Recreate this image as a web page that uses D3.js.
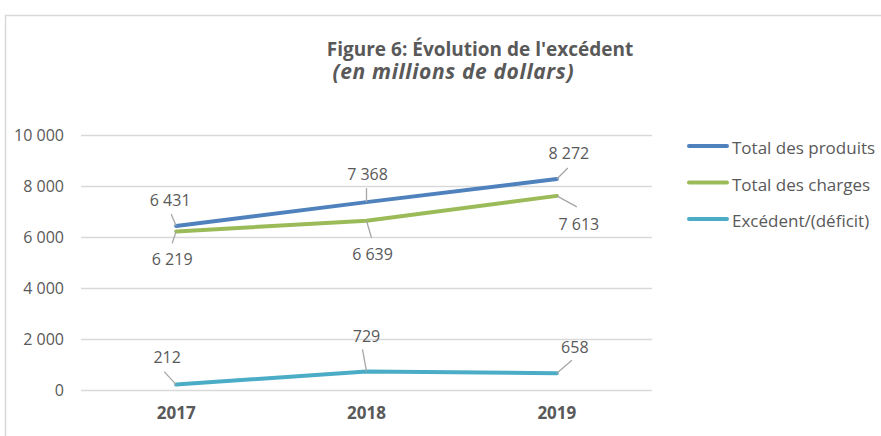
<!DOCTYPE html>
<html>
<head>
<meta charset="utf-8">
<script src="https://cdn.jsdelivr.net/npm/d3@7"></script>
<style>
  body { margin: 0; background: #fff; }
  text { font-family: "Open Sans", sans-serif; fill: #595959; }
</style>
</head>
<body>
<script>
// Data
var years = ["2017", "2018", "2019"];
var produits = [6431, 7368, 8272];
var charges = [6219, 6639, 7613];
var excedent = [212, 729, 658];
var seriesNames = ["Total des produits", "Total des charges", "Excédent/(déficit)"];
var yTicks = [0, 2000, 4000, 6000, 8000, 10000];

// Chart stuff
var width = 881,
    height = 436;
var margin = {left: 81, right: 229, top: 135, bottom: 46};

var colors = ["#4f81bd", "#9bbb59", "#4bacc6"];

// label placement: text dx, baseline dy, leader end dx, dy (relative to point)
var labelPos = [
  [[-6, -20, -5, -12], [1, -22, 0, -14], [12, -20, 11, -11]],
  [[-4, 34, -4, 12], [6, 39, 5, 17], [22, 34, 20, 11]],
  [[-9, -22, -12, -13], [0, -29, -4, -22], [18, -20, 15, -13]]
];

var svg = d3.select("body").append("svg")
    .attr("width", width)
    .attr("height", height);

// border
svg.append("rect")
    .attr("x", 5.5).attr("y", 15.5)
    .attr("width", width).attr("height", height)
    .attr("fill", "none").attr("stroke", "#d9d9d9").attr("stroke-width", 1.5);

var x = d3.scaleBand()
    .domain(years)
    .range([margin.left, width - margin.right]);

var y = d3.scaleLinear()
    .domain([0, 10000])
    .range([height - margin.bottom, margin.top]);

var fmt = function(v) { return d3.format(",")(v).replace(/,/g, " "); };

// title
svg.append("text")
    .attr("x", 480).attr("y", 56)
    .attr("text-anchor", "middle")
    .style("font-size", "19px").style("font-weight", "bold")
    .text("Figure 6: Évolution de l'excédent");
svg.append("text")
    .attr("x", 453).attr("y", 79)
    .attr("text-anchor", "middle")
    .attr("textLength", 241).attr("lengthAdjust", "spacing")
    .style("font-size", "21px").style("font-weight", "bold").style("font-style", "italic")
    .text("(en millions de dollars)");

// grid + y axis
var yAxis = svg.append("g")
    .attr("transform", "translate(" + margin.left + ",0)")
    .call(d3.axisLeft(y).tickValues(yTicks).tickSize(-(width - margin.left - margin.right))
      .tickFormat(fmt).tickPadding(17));
yAxis.select(".domain").remove();
yAxis.selectAll(".tick line").attr("stroke", "#d9d9d9").attr("stroke-width", 1.5);
yAxis.selectAll(".tick text").style("font-size", "16px").style("fill", "#595959")
    .style("font-family", "'Open Sans', sans-serif");

// x axis labels
var xAxis = svg.append("g")
    .attr("transform", "translate(0," + (height - margin.bottom) + ")")
    .call(d3.axisBottom(x).tickSize(0).tickPadding(17));
xAxis.select(".domain").remove();
xAxis.selectAll(".tick text").style("font-size", "17px").style("font-weight", "bold")
    .style("fill", "#595959").style("font-family", "'Open Sans', sans-serif");

var line = d3.line()
    .x(function(d, i) { return x(years[i]) + x.bandwidth() / 2; })
    .y(function(d) { return y(d); });

var allSeries = [produits, charges, excedent];

allSeries.forEach(function(s, k) {
  svg.append("path")
    .datum(s)
    .attr("d", line)
    .attr("fill", "none")
    .attr("stroke", colors[k])
    .attr("stroke-width", 4)
    .attr("stroke-linecap", "round")
    .attr("stroke-linejoin", "round");

  var g = svg.append("g");
  s.forEach(function(v, i) {
    var px = x(years[i]) + x.bandwidth() / 2,
        py = y(v),
        p = labelPos[k][i];
    g.append("line")
      .attr("x1", px).attr("y1", py)
      .attr("x2", px + p[2]).attr("y2", py + p[3])
      .attr("stroke", "#a6a6a6").attr("stroke-width", 1.3);
    g.append("text")
      .attr("x", px + p[0]).attr("y", py + p[1])
      .attr("text-anchor", "middle")
      .style("font-size", "16px")
      .text(fmt(v));
  });
});

// legend
var legend = svg.append("g").attr("transform", "translate(689,146)");
seriesNames.forEach(function(n, k) {
  legend.append("line")
    .attr("x1", 0).attr("x2", 38)
    .attr("y1", k * 36.5).attr("y2", k * 36.5)
    .attr("stroke", colors[k]).attr("stroke-width", 4).attr("stroke-linecap", "round");
  legend.append("text")
    .attr("x", 43).attr("y", k * 36.5 + 8)
    .style("font-size", "17px")
    .text(n);
});
</script>
</body>
</html>
